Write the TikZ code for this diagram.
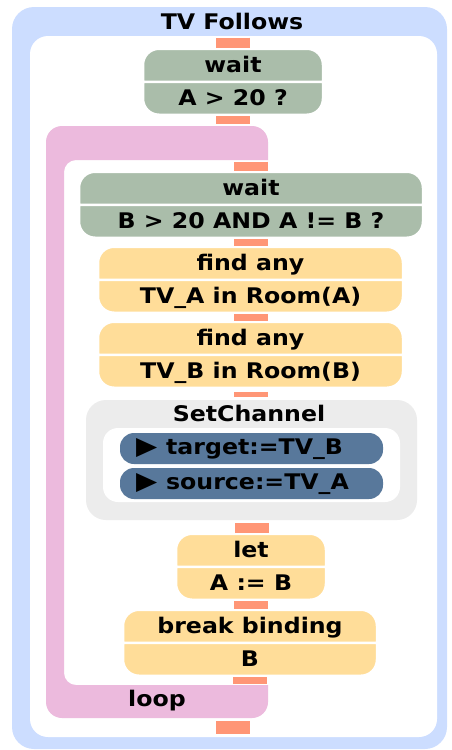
\documentclass[tikz,border=0pt]{standalone}
\usepackage{fontspec}
\setmainfont{DejaVu Sans}[FakeStretch=1.1]
\usetikzlibrary{shapes.multipart,positioning}

\definecolor{framebl}{RGB}{204,221,255}
\definecolor{waitgreen}{RGB}{170,189,170}
\definecolor{actyellow}{RGB}{255,221,153}
\definecolor{stubred}{RGB}{255,150,118}
\definecolor{looppink}{RGB}{236,186,221}
\definecolor{groupgrey}{RGB}{236,236,236}
\definecolor{argblue}{RGB}{88,120,155}

% both halves of a block get the same height
\newcommand{\halfstrut}{\rule[-6pt]{0pt}{25.5pt}}
\newcommand{\blocktext}[2]{\halfstrut#1\nodepart{two}\halfstrut#2}

\tikzset{
  blockfont/.style={font=\fontsize{21.5}{23}\selectfont\bfseries},
  block/.style={rectangle split, rectangle split parts=2, draw=white,
    line width=2.5pt, rounded corners=16pt, inner ysep=2.5pt,
    outer sep=0pt, anchor=north, blockfont},
  waitbox/.style={block, fill=waitgreen},
  actbox/.style={block, fill=actyellow},
  stub/.style={draw=stubred, line width=34pt, shorten <=1.5pt, shorten >=1pt},
  argbar/.style={fill=argblue, rounded corners=14pt, minimum height=31pt,
    text width=231pt, inner xsep=16pt, align=left, blockfont},
}

\begin{document}
\begin{tikzpicture}[x=1pt,y=-1pt]
\useasboundingbox (0,0) rectangle (452,750);

% outer frame
\fill[framebl, rounded corners=22] (12,7) rectangle (447,749);
\fill[white, rounded corners=18] (30,36) rectangle (437,737);
\node[blockfont] (title) at (232,21) {TV Follows};
\coordinate (start) at (233,36);
\coordinate (finish) at (233,735);

\node[waitbox, minimum width=180pt] (wait1) at (233,48.75) {\blocktext{wait}{A > 20 ?}};

% loop
\fill[looppink] (268,160) [rounded corners=16] -- (268,126) -- (46,126)
  -- (46,718) -- (268,718) [sharp corners] -- (268,685)
  [rounded corners=12] -- (64,685) -- (64,160) [sharp corners] -- cycle;
\node[blockfont] (looplabel) at (157,701) {loop};
\coordinate (loopin) at (233,125);
\coordinate (loopfirst) at (250,160);
\coordinate (looplast) at (250,685);
\coordinate (loopout) at (233,719.5);

\node[waitbox, minimum width=344pt] (wait2) at (251,171.75) {\blocktext{wait}{B > 20 AND A != B ?}};
\node[actbox, minimum width=305pt] (find1) at (250.5,246.75) {\blocktext{find any}{TV\_A in Room(A)}};
\node[actbox, minimum width=305pt] (find2) at (250.5,321.75) {\blocktext{find any}{TV\_B in Room(B)}};

% SetChannel with its two arguments
\node[fill=groupgrey, rounded corners=20pt, minimum width=331pt, minimum height=120pt] (setch) at (251.5,460) {};
\node[blockfont] (setchtitle) at (249,413) {SetChannel};
\node[fill=white, rounded corners=15pt, minimum width=297pt, minimum height=74pt] (setargs) at (251.5,465) {};
\node[argbar] (argtarget) at (251.5,448.5) {{\fontsize{25}{26}\selectfont ▶}\hspace{9pt}target:=TV\_B};
\node[argbar] (argsource) at (251.5,483.5) {{\fontsize{25}{26}\selectfont ▶}\hspace{9pt}source:=TV\_A};

\node[actbox, minimum width=150pt] (let) at (251,533.75) {\blocktext{let}{A := B}};
\node[actbox, minimum width=254pt] (brk) at (250,609.75) {\blocktext{break binding}{B}};

% stubs
\draw[stub] (wait1.north |- start) -- (wait1.north);
\draw[stub] (wait1.south) -- (wait1.south |- loopin);
\draw[stub] (wait2.north |- loopfirst) -- (wait2.north);
\draw[stub] (wait2.south) -- (wait2.south |- find1.north);
\draw[stub] (find1.south) -- (find2.north);
\draw[stub, shorten <=4pt, shorten >=3pt] (find2.south) -- (find2.south |- setch.north);
\draw[stub, shorten <=3pt] (setch.south) -- (setch.south |- let.north);
\draw[stub] (let.south) -- (let.south |- brk.north);
\draw[stub] (brk.south) -- (brk.south |- looplast);
\draw[stub] (loopout) -- (finish);
\end{tikzpicture}
\end{document}
